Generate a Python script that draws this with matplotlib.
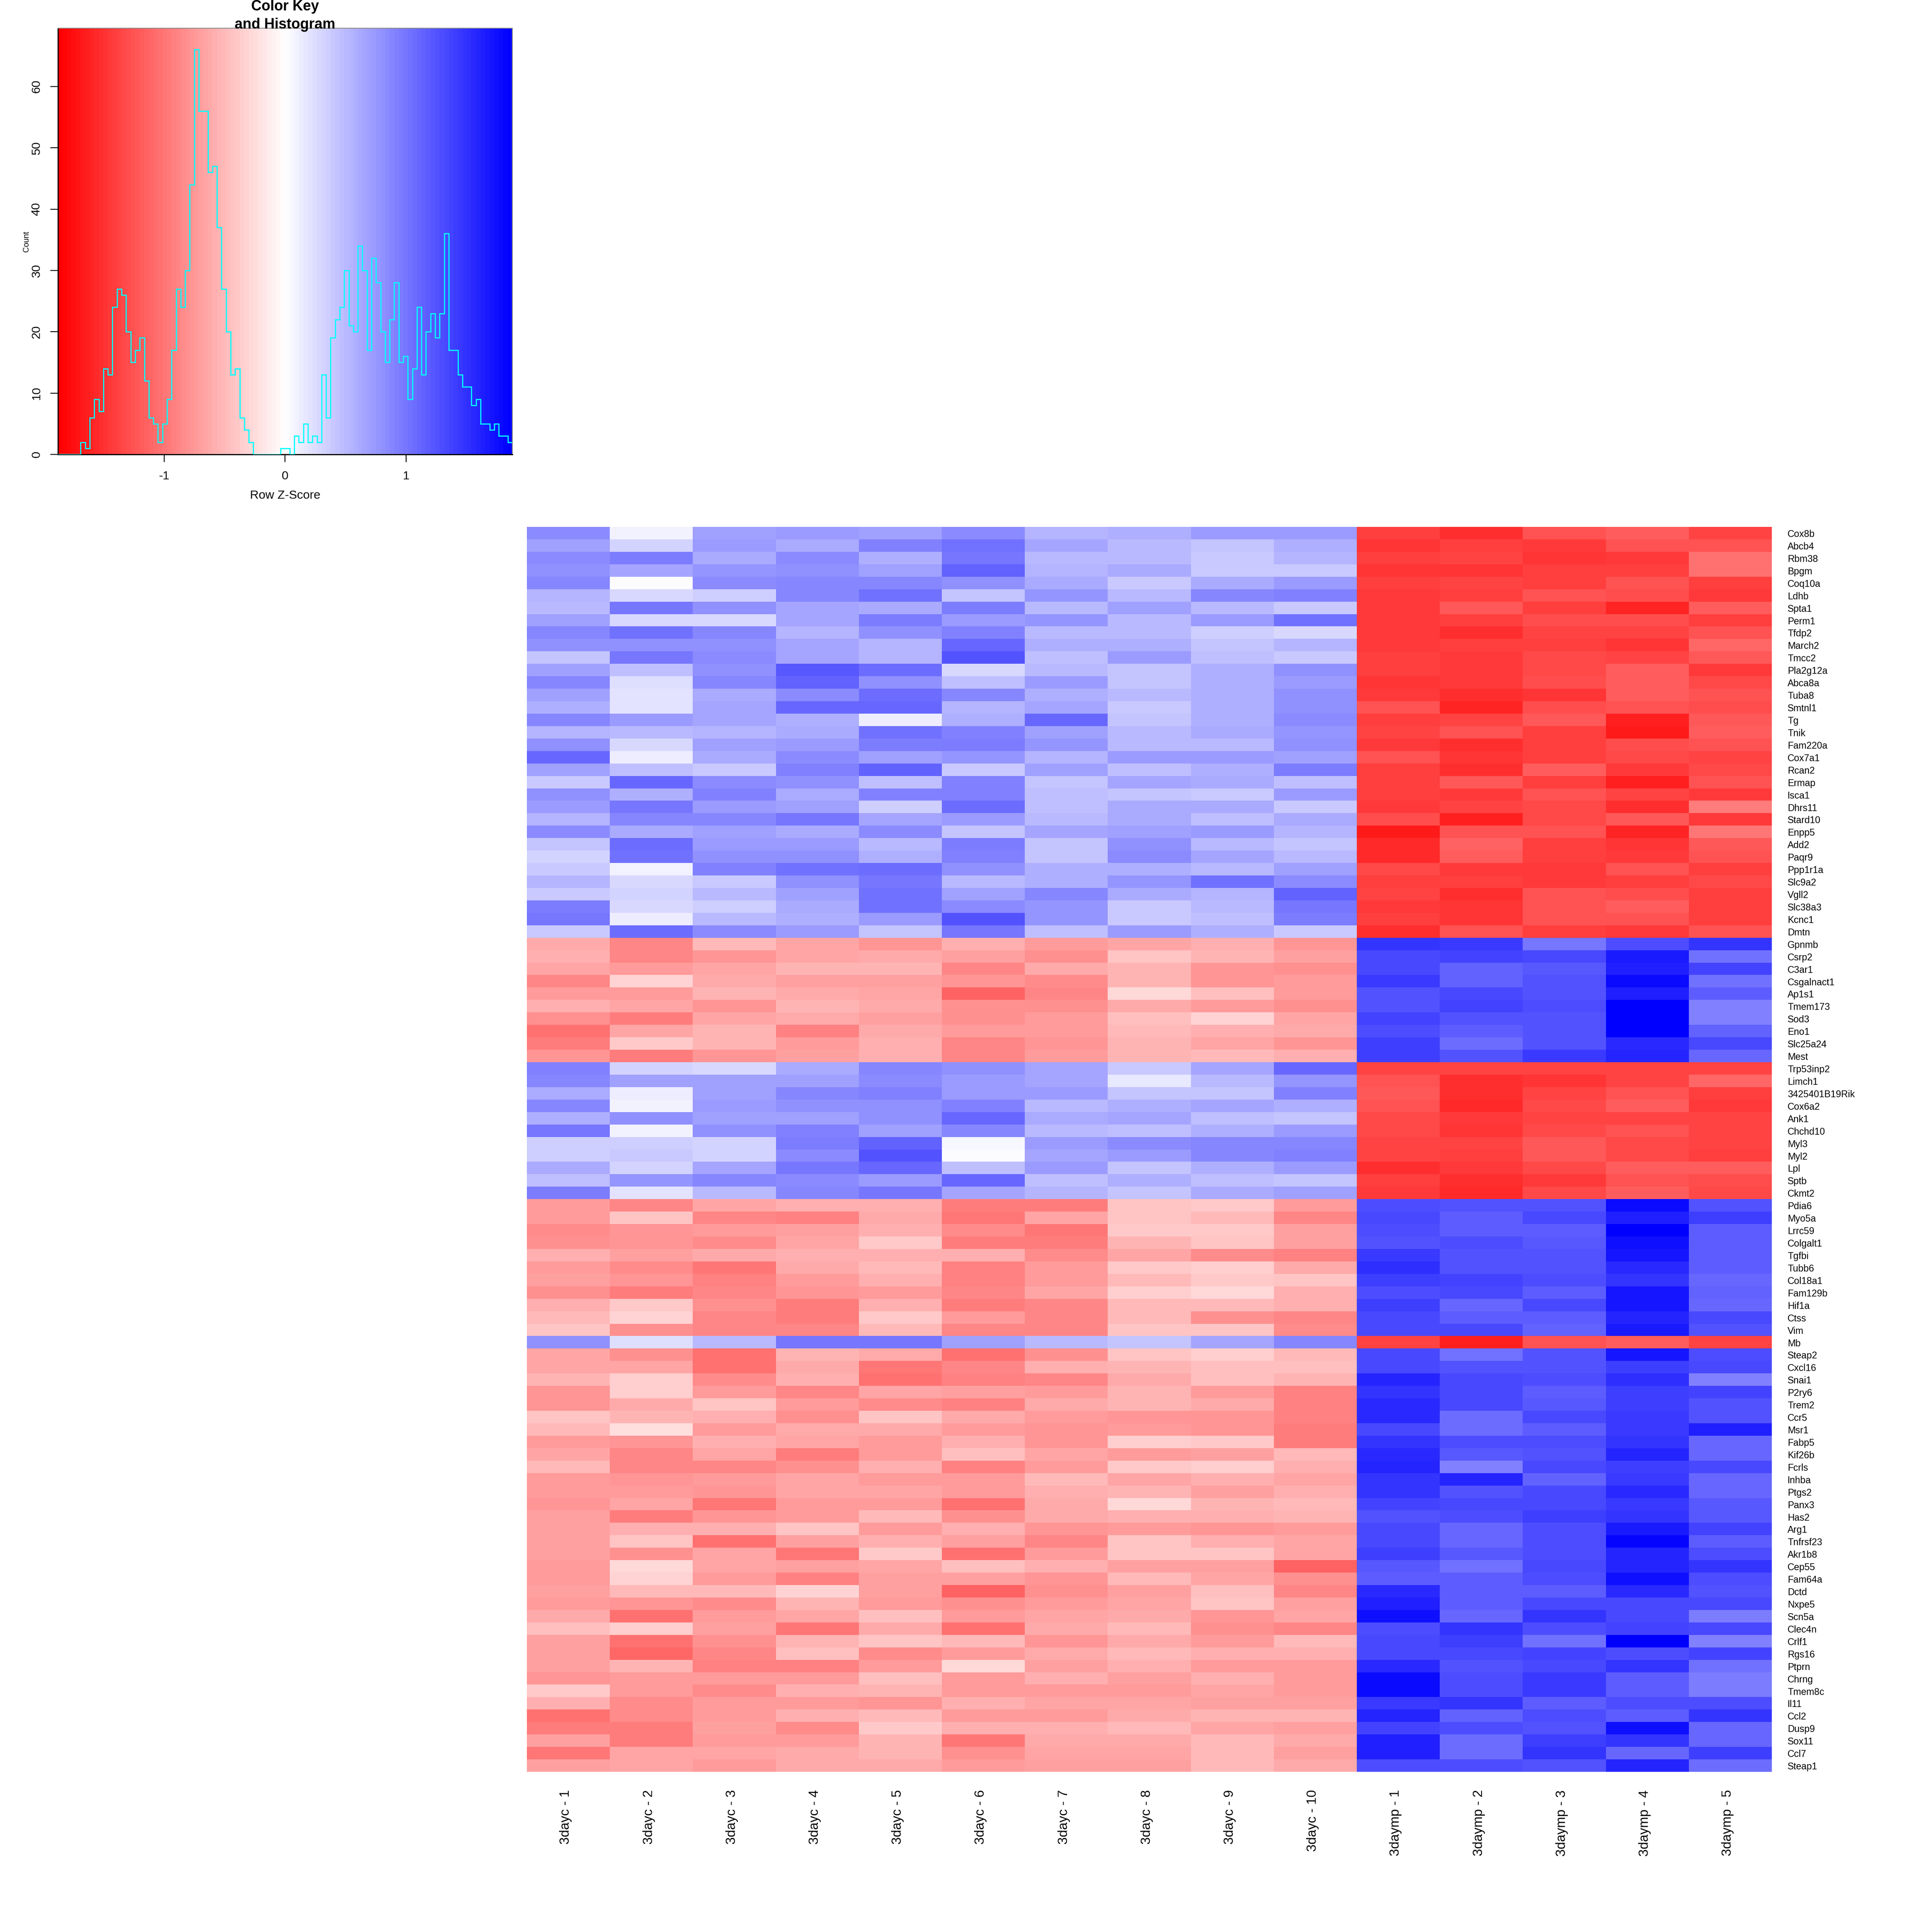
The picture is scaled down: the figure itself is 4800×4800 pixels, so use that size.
import numpy as np
import matplotlib
matplotlib.use('Agg')
import matplotlib.pyplot as plt
from matplotlib.colors import LinearSegmentedColormap

plt.rcParams['font.family'] = ['Liberation Sans', 'DejaVu Sans']
plt.rcParams['axes.unicode_minus'] = False

# Step 1: labels
sample_labels = ['3dayc - 1', '3dayc - 2', '3dayc - 3', '3dayc - 4', '3dayc - 5',
                 '3dayc - 6', '3dayc - 7', '3dayc - 8', '3dayc - 9', '3dayc - 10',
                 '3daymp - 1', '3daymp - 2', '3daymp - 3', '3daymp - 4', '3daymp - 5']

gene_labels = ['Cox8b', 'Abcb4', 'Rbm38', 'Bpgm', 'Coq10a', 'Ldhb', 'Spta1', 'Perm1', 'Tfdp2', 'March2',
               'Tmcc2', 'Pla2g12a', 'Abca8a', 'Tuba8', 'Smtnl1', 'Tg', 'Tnik', 'Fam220a', 'Cox7a1', 'Rcan2',
               'Ermap', 'Isca1', 'Dhrs11', 'Stard10', 'Enpp5', 'Add2', 'Paqr9', 'Ppp1r1a', 'Slc9a2', 'Vgll2',
               'Slc38a3', 'Kcnc1', 'Dmtn', 'Gpnmb', 'Csrp2', 'C3ar1', 'Csgalnact1', 'Ap1s1', 'Tmem173', 'Sod3',
               'Eno1', 'Slc25a24', 'Mest', 'Trp53inp2', 'Limch1', '3425401B19Rik', 'Cox6a2', 'Ank1', 'Chchd10', 'Myl3',
               'Myl2', 'Lpl', 'Sptb', 'Ckmt2', 'Pdia6', 'Myo5a', 'Lrrc59', 'Colgalt1', 'Tgfbi', 'Tubb6',
               'Col18a1', 'Fam129b', 'Hif1a', 'Ctss', 'Vim', 'Mb', 'Steap2', 'Cxcl16', 'Snai1', 'P2ry6',
               'Trem2', 'Ccr5', 'Msr1', 'Fabp5', 'Kif26b', 'Fcrls', 'Inhba', 'Ptgs2', 'Panx3', 'Has2',
               'Arg1', 'Tnfrsf23', 'Akr1b8', 'Cep55', 'Fam64a', 'Dctd', 'Nxpe5', 'Scn5a', 'Clec4n', 'Crlf1',
               'Rgs16', 'Ptprn', 'Chrng', 'Tmem8c', 'Il11', 'Ccl2', 'Dusp9', 'Sox11', 'Ccl7', 'Steap1']

# Step 2: row z-scores, one block per cluster
cluster_a = [
    [.83, .10, .70, .75, .68, .83, .55, .60, .75, .75, -1.40, -1.53, -1.25, -1.20, -1.38],
    [.68, .33, .75, .63, .92, 1.05, .65, .52, .43, .60, -1.48, -1.40, -1.45, -1.27, -1.27],
    [.85, .95, .62, .85, .58, 1.00, .50, .50, .38, .56, -1.42, -1.36, -1.50, -1.46, -1.05],
    [.80, .65, .77, .82, .68, 1.13, .55, .63, .38, .38, -1.50, -1.50, -1.40, -1.40, -1.03],
    [.90, .00, .85, .88, .90, .82, .63, .38, .62, .75, -1.42, -1.38, -1.40, -1.27, -1.40],
    [.55, .28, .35, .90, 1.02, .44, .77, .50, .87, .92, -1.45, -1.42, -1.25, -1.30, -1.45],
    [.52, 1.00, .82, .65, .62, .95, .50, .68, .52, .38, -1.46, -1.24, -1.40, -1.60, -1.18],
    [.70, .30, .30, .66, .95, .75, .77, .50, .75, 1.03, -1.46, -1.40, -1.30, -1.30, -1.42],
    [.90, 1.03, .90, .55, .80, .93, .50, .50, .37, .30, -1.46, -1.53, -1.36, -1.36, -1.25],
    [.80, .80, .82, .66, .53, 1.12, .58, .60, .42, .55, -1.46, -1.40, -1.42, -1.48, -1.12],
    [.44, 1.00, .85, .65, .55, 1.25, .46, .75, .46, .38, -1.42, -1.44, -1.33, -1.38, -1.22],
    [.70, .47, .80, 1.23, 1.08, .27, .52, .45, .60, .82, -1.42, -1.44, -1.33, -1.20, -1.46],
    [.88, .25, .90, 1.13, .82, .47, .75, .45, .60, .75, -1.50, -1.44, -1.30, -1.20, -1.35],
    [.70, .20, .63, .85, 1.08, .90, .58, .50, .60, .82, -1.44, -1.53, -1.48, -1.20, -1.27],
    [.60, .20, .67, 1.12, 1.12, .55, .66, .38, .57, .82, -1.27, -1.61, -1.30, -1.26, -1.30],
    [.90, .75, .66, .58, .15, .58, 1.12, .45, .57, .85, -1.42, -1.37, -1.24, -1.63, -1.24],
    [.56, .50, .54, .62, 1.02, .92, .70, .50, .62, .78, -1.38, -1.26, -1.42, -1.69, -1.18],
    [.82, .28, .68, .72, .97, .97, .76, .50, .50, .80, -1.46, -1.53, -1.40, -1.28, -1.27],
    [1.10, .15, .63, .84, .68, .77, .56, .72, .75, .68, -1.27, -1.48, -1.42, -1.33, -1.38],
    [.68, .47, .38, .92, 1.15, .38, .69, .47, .58, .95, -1.42, -1.51, -1.20, -1.46, -1.33],
    [.38, 1.12, .84, .80, .46, .92, .44, .67, .63, .47, -1.40, -1.24, -1.40, -1.64, -1.26],
    [.80, .58, .92, .63, .93, .93, .48, .43, .38, .75, -1.42, -1.43, -1.26, -1.38, -1.45],
    [.75, .98, .75, .70, .36, 1.07, .46, .63, .63, .41, -1.46, -1.38, -1.33, -1.53, -.97],
    [.55, .90, .90, 1.00, .67, .73, .52, .63, .47, .62, -1.30, -1.62, -1.33, -1.22, -1.46],
    [.83, .63, .68, .62, .85, .42, .65, .70, .75, .55, -1.68, -1.27, -1.27, -1.60, -1.00],
    [.43, 1.07, .75, .75, .52, .97, .44, .80, .52, .45, -1.55, -1.15, -1.42, -1.50, -1.22],
    [.31, 1.05, .80, .80, .60, .93, .45, .85, .65, .52, -1.57, -1.18, -1.42, -1.46, -1.27],
    [.38, .10, .93, 1.03, 1.07, .82, .60, .60, .52, .68, -1.33, -1.46, -1.46, -1.27, -1.42],
    [.55, .28, .38, .80, .98, .52, .60, .78, 1.02, .85, -1.42, -1.40, -1.44, -1.40, -1.35],
    [.38, .31, .52, .70, 1.03, .68, .87, .62, .55, 1.15, -1.38, -1.53, -1.27, -1.30, -1.42],
    [.95, .30, .35, .62, 1.03, .83, .77, .40, .50, .98, -1.46, -1.48, -1.27, -1.20, -1.42],
    [1.00, .15, .49, .57, .73, 1.27, .77, .40, .47, .95, -1.40, -1.50, -1.27, -1.25, -1.42],
    [.38, 1.07, .85, .73, .44, 1.00, .47, .73, .57, .38, -1.53, -1.27, -1.40, -1.45, -1.27],
]

cluster_b = [
    [-.62, -.87, -.50, -.65, -.77, -.57, -.72, -.65, -.58, -.77, 1.50, 1.45, 1.00, 1.30, 1.47],
    [-.60, -.90, -.77, -.65, -.62, -.70, -.80, -.45, -.55, -.70, 1.35, 1.38, 1.32, 1.67, 1.03],
    [-.65, -.72, -.65, -.53, -.53, -.87, -.62, -.55, -.77, -.80, 1.33, 1.15, 1.22, 1.65, 1.38],
    [-.87, -.33, -.62, -.70, -.70, -.78, -.83, -.53, -.77, -.72, 1.45, 1.15, 1.27, 1.77, 1.05],
    [-.75, -.72, -.55, -.62, -.67, -1.13, -.87, -.30, -.48, -.72, 1.27, 1.35, 1.27, 1.63, 1.20],
    [-.60, -.65, -.77, -.55, -.63, -.80, -.82, -.62, -.72, -.80, 1.27, 1.38, 1.30, 1.88, .93],
    [-.80, -.95, -.67, -.63, -.68, -.80, -.75, -.46, -.33, -.66, 1.37, 1.25, 1.25, 1.88, .93],
    [-1.03, -.66, -.55, -.92, -.62, -.72, -.73, -.50, -.60, -.62, 1.30, 1.17, 1.25, 1.88, 1.13],
    [-.95, -.38, -.55, -.75, -.60, -.88, -.77, -.55, -.66, -.77, 1.42, 1.07, 1.27, 1.55, 1.35],
    [-.77, -.95, -.78, -.68, -.60, -.87, -.72, -.55, -.50, -.60, 1.40, 1.27, 1.45, 1.58, 1.12],
]

cluster_c = [
    [.92, .33, .27, .62, .87, .80, .65, .38, .65, 1.10, -1.38, -1.38, -1.38, -1.38, -1.36],
    [.90, .70, .68, .68, .83, .75, .65, .17, .50, .77, -1.27, -1.53, -1.50, -1.38, -1.12],
    [.62, .15, .68, .87, .92, .75, .73, .45, .45, .92, -1.22, -1.53, -1.37, -1.27, -1.42],
    [.87, .08, .73, .82, .82, .92, .50, .58, .65, .58, -1.25, -1.55, -1.33, -1.18, -1.45],
    [.58, .80, .68, .68, .82, 1.10, .63, .65, .47, .45, -1.32, -1.46, -1.37, -1.37, -1.37],
    [1.00, .08, .80, .93, .68, .88, .52, .47, .60, .73, -1.33, -1.48, -1.33, -1.27, -1.38],
    [.37, .35, .32, .97, 1.13, .07, .75, .85, .88, .90, -1.37, -1.38, -1.24, -1.33, -1.38],
    [.37, .41, .31, .84, 1.27, .00, .65, .75, .90, .92, -1.37, -1.42, -1.24, -1.32, -1.42],
    [.63, .31, .66, 1.00, 1.12, .47, .75, .45, .58, .72, -1.53, -1.46, -1.33, -1.20, -1.20],
    [.48, .77, .87, .85, .72, 1.12, .48, .57, .48, .44, -1.40, -1.53, -1.46, -1.26, -1.30],
    [.95, .22, .52, .87, .98, .66, .55, .45, .63, .68, -1.45, -1.55, -1.33, -1.18, -1.32],
]

cluster_d = [
    [-.75, -.87, -.67, -.57, -.57, -.95, -.97, -.42, -.38, -.75, 1.30, 1.27, 1.27, 1.77, 1.25],
    [-.72, -.45, -.87, -.92, -.62, -1.00, -.65, -.44, -.50, -.88, 1.35, 1.17, 1.33, 1.62, 1.40],
    [-.85, -.77, -.72, -.68, -.60, -.85, -.98, -.40, -.38, -.68, 1.30, 1.20, 1.20, 1.88, 1.18],
    [-.82, -.78, -.85, -.65, -.40, -.95, -.95, -.55, -.42, -.70, 1.27, 1.30, 1.22, 1.75, 1.20],
    [-.60, -.70, -.62, -.57, -.58, -.60, -.85, -.65, -.85, -.92, 1.45, 1.25, 1.25, 1.72, 1.20],
    [-.75, -.85, -1.00, -.63, -.52, -.93, -.72, -.40, -.37, -.63, 1.53, 1.25, 1.25, 1.55, 1.20],
    [-.70, -.78, -.93, -.75, -.57, -.92, -.72, -.52, -.40, -.45, 1.42, 1.37, 1.30, 1.50, 1.10],
    [-.82, -.95, -.87, -.77, -.75, -.90, -.65, -.35, -.30, -.60, 1.30, 1.32, 1.20, 1.70, 1.15],
    [-.58, -.38, -.82, -.97, -.58, -.97, -.87, -.52, -.50, -.58, 1.42, 1.12, 1.32, 1.70, 1.10],
    [-.52, -.32, -.88, -.95, -.40, -.75, -.87, -.50, -.80, -.90, 1.33, 1.17, 1.17, 1.60, 1.35],
    [-.45, -.80, -.88, -.87, -.50, -.88, -.88, -.42, -.43, -.85, 1.33, 1.35, 1.15, 1.68, 1.25],
]

row_mb = [
    [.80, .23, .50, 1.00, 1.00, .68, .52, .43, .65, .90, -1.38, -1.62, -1.25, -1.18, -1.38],
]

cluster_e = [
    [-.65, -.80, -1.02, -.55, -.62, -1.03, -.82, -.43, -.37, -.52, 1.33, 1.05, 1.25, 1.72, 1.30],
    [-.65, -.65, -1.02, -.62, -1.00, -.87, -.60, -.55, -.48, -.48, 1.33, 1.27, 1.27, 1.42, 1.33],
    [-.55, -.37, -.85, -.60, -1.05, -.92, -.90, -.63, -.48, -.55, 1.60, 1.32, 1.30, 1.52, .92],
    [-.78, -.37, -.72, -.88, -.65, -.68, -.72, -.55, -.72, -.93, 1.50, 1.33, 1.17, 1.42, 1.37],
    [-.78, -.62, -.42, -.75, -.83, -.92, -.62, -.55, -.62, -.93, 1.55, 1.33, 1.23, 1.40, 1.25],
    [-.45, -.55, -.60, -.80, -.45, -.62, -.73, -.77, -.78, -.93, 1.55, 1.08, 1.33, 1.45, 1.27],
    [-.52, -.25, -.72, -.62, -.63, -.75, -.77, -.73, -.78, -.95, 1.33, 1.07, 1.18, 1.43, 1.62],
    [-.72, -.77, -.57, -.65, -.72, -.58, -.77, -.37, -.40, -.97, 1.47, 1.30, 1.30, 1.47, 1.10],
    [-.65, -.88, -.67, -.97, -.73, -.48, -.67, -.72, -.68, -.52, 1.57, 1.22, 1.27, 1.58, 1.10],
    [-.52, -.90, -.90, -.82, -.60, -.92, -.72, -.40, -.35, -.60, 1.60, .93, 1.32, 1.40, 1.33],
    [-.75, -.78, -.72, -.65, -.73, -.73, -.52, -.65, -.60, -.65, 1.47, 1.60, 1.13, 1.45, 1.12],
    [-.72, -.75, -.78, -.67, -.67, -.72, -.57, -.55, -.70, -.60, 1.50, 1.27, 1.35, 1.55, 1.12],
    [-.78, -.65, -.98, -.72, -.72, -1.03, -.62, -.28, -.53, -.50, 1.38, 1.33, 1.35, 1.45, 1.22],
    [-.70, -.95, -.77, -.72, -.50, -.80, -.62, -.57, -.60, -.55, 1.25, 1.30, 1.40, 1.50, 1.22],
    [-.70, -.57, -.57, -.45, -.72, -.60, -.78, -.72, -.78, -.75, 1.32, 1.10, 1.30, 1.68, 1.37],
    [-.70, -.42, -1.03, -.70, -.58, -.68, -.87, -.42, -.58, -.65, 1.35, 1.10, 1.30, 1.82, 1.17],
    [-.70, -.80, -.65, -.98, -.40, -1.02, -.75, -.42, -.43, -.65, 1.42, 1.22, 1.28, 1.60, 1.30],
    [-.72, -.27, -.65, -.68, -.65, -.48, -.60, -.68, -.70, -1.15, 1.22, 1.05, 1.33, 1.60, 1.48],
    [-.72, -.32, -.72, -.93, -.68, -.70, -.78, -.52, -.65, -.80, 1.20, 1.20, 1.30, 1.73, 1.30],
    [-.70, -.50, -.52, -.33, -.70, -1.15, -.80, -.68, -.47, -.87, 1.55, 1.20, 1.20, 1.55, 1.27],
    [-.72, -.77, -.85, -.55, -.75, -.80, -.72, -.65, -.43, -.70, 1.62, 1.20, 1.33, 1.35, 1.33],
    [-.62, -1.05, -.75, -.67, -.47, -.72, -.67, -.62, -.77, -.67, 1.75, 1.12, 1.47, 1.33, .95],
    [-.47, -.37, -.68, -1.00, -.63, -1.02, -.63, -.52, -.80, -.87, 1.30, 1.50, 1.28, 1.38, 1.33],
    [-.70, -1.02, -.80, -.55, -.42, -.52, -.78, -.62, -.72, -.50, 1.33, 1.42, 1.03, 1.88, .93],
    [-.70, -1.12, -.88, -.48, -.85, -.75, -.62, -.50, -.60, -.58, 1.33, 1.35, 1.37, 1.28, 1.37],
    [-.70, -.55, -.93, -.92, -.75, -.28, -.68, -.58, -.73, -.73, 1.55, 1.27, 1.33, 1.50, 1.05],
    [-.77, -.75, -.75, -.72, -.47, -.72, -.60, -.70, -.60, -.73, 1.80, 1.30, 1.45, 1.20, .97],
    [-.38, -.73, -.83, -.60, -.55, -.72, -.72, -.72, -.65, -.73, 1.78, 1.30, 1.45, 1.20, .95],
    [-.60, -.83, -.75, -.75, -.77, -.60, -.67, -.65, -.70, -.70, 1.45, 1.50, 1.20, 1.28, 1.28],
    [-1.03, -.85, -.72, -.60, -.52, -.72, -.75, -.63, -.55, -.55, 1.58, 1.13, 1.30, 1.20, 1.50],
    [-.95, -.97, -.70, -.83, -.40, -.60, -.58, -.50, -.65, -.70, 1.38, 1.30, 1.25, 1.75, 1.12],
    [-.68, -.95, -.73, -.75, -.53, -.98, -.62, -.62, -.50, -.63, 1.62, 1.07, 1.40, 1.48, 1.12],
    [-.98, -.65, -.65, -.62, -.55, -.80, -.67, -.67, -.52, -.68, 1.62, 1.07, 1.47, 1.10, 1.40],
    [-.70, -.65, -.72, -.62, -.63, -.73, -.68, -.68, -.52, -.63, 1.28, 1.28, 1.25, 1.60, 1.07],
]

# Step 3: histogram counts of the colour key, 100 equal bins
hist_counts = [0, 0, 0, 0, 0, 2, 1, 6, 9, 7, 14, 13, 24, 27, 26,
               20, 15, 17, 19, 12, 6, 5, 2, 5, 9, 17, 27, 24, 30, 44,
               66, 56, 56, 46, 47, 37, 27, 20, 13, 14, 6, 4, 2,
               0, 0, 0, 0, 0, 0, 1, 1, 0, 3, 2, 5, 2, 3, 2, 13,
               6, 19, 22, 24, 30, 21, 20, 34, 30, 17, 32, 28, 20, 15, 22,
               28, 15, 16, 9, 14, 24, 13, 20, 23, 19, 23, 36, 17, 17, 13,
               11, 11, 8, 9, 5, 5, 4, 5, 3, 3, 2]
z_limit = 1.88

matrix = np.vstack([cluster_a, cluster_b, cluster_c, cluster_d, row_mb, cluster_e])
cmap = LinearSegmentedColormap.from_list('redwhiteblue', ['#ff0000', '#ffffff', '#0000ff'], N=len(hist_counts))

S = 4800
fig = plt.figure(figsize=(16, 16), dpi=300)

# Step 4: heatmap
ax = fig.add_axes([1309 / S, 1 - 4402 / S, 3093 / S, 3093 / S])
ax.pcolormesh(np.arange(matrix.shape[1] + 1), np.arange(matrix.shape[0] + 1), matrix,
              cmap=cmap, vmin=-z_limit, vmax=z_limit, antialiased=False, linewidth=0, rasterized=True)
ax.set_xlim(0, matrix.shape[1])
ax.set_ylim(matrix.shape[0], 0)
ax.axis('off')

for i, name in enumerate(gene_labels):
    ax.text(matrix.shape[1] + 0.19, i + 0.6, name, fontsize=5.64, ha='left', va='center')
for j, name in enumerate(sample_labels):
    ax.text(j + 0.47, matrix.shape[0] + 1.45, name, fontsize=7.9, rotation=90, ha='center', va='top')

# Step 5: colour key with histogram
key = fig.add_axes([144 / S, 1 - 1129 / S, 1129 / S, 1059 / S])
edges = np.linspace(-z_limit, z_limit, len(hist_counts) + 1)
mids = (edges[:-1] + edges[1:]) / 2
key.imshow(mids.reshape(1, -1), cmap=cmap, vmin=-z_limit, vmax=z_limit, aspect='auto',
           extent=[-z_limit, z_limit, 0, 69.5], interpolation='nearest')
key.stairs(hist_counts, edges, color='cyan', linewidth=0.7, baseline=None, zorder=3)
key.set_xlim(-z_limit, z_limit)
key.set_ylim(0, 69.5)
key.set_xticks([-1, 0, 1])
key.set_yticks([0, 10, 20, 30, 40, 50, 60])
key.tick_params(length=4.5, width=0.55, labelsize=7.2, pad=5)
plt.setp(key.get_yticklabels(), rotation=90, va='center')
for side in ['left', 'bottom']:
    key.spines[side].set_linewidth(0.7)
for side in ['top', 'right']:
    key.spines[side].set_linewidth(0.5)
    key.spines[side].set_color('#8c8c8c')
key.set_xlabel('Row Z-Score', fontsize=7.2, labelpad=5)
key.set_ylabel('Count', fontsize=4.7, labelpad=0.4)
fig.text(708 / S, 1 - 16 / S, 'Color Key', fontsize=8.6, fontweight='bold', ha='center', va='center')
fig.text(708 / S, 1 - 71 / S, 'and Histogram', fontsize=8.6, fontweight='bold', ha='center', va='baseline')

fig.savefig('out.png', dpi=300)
